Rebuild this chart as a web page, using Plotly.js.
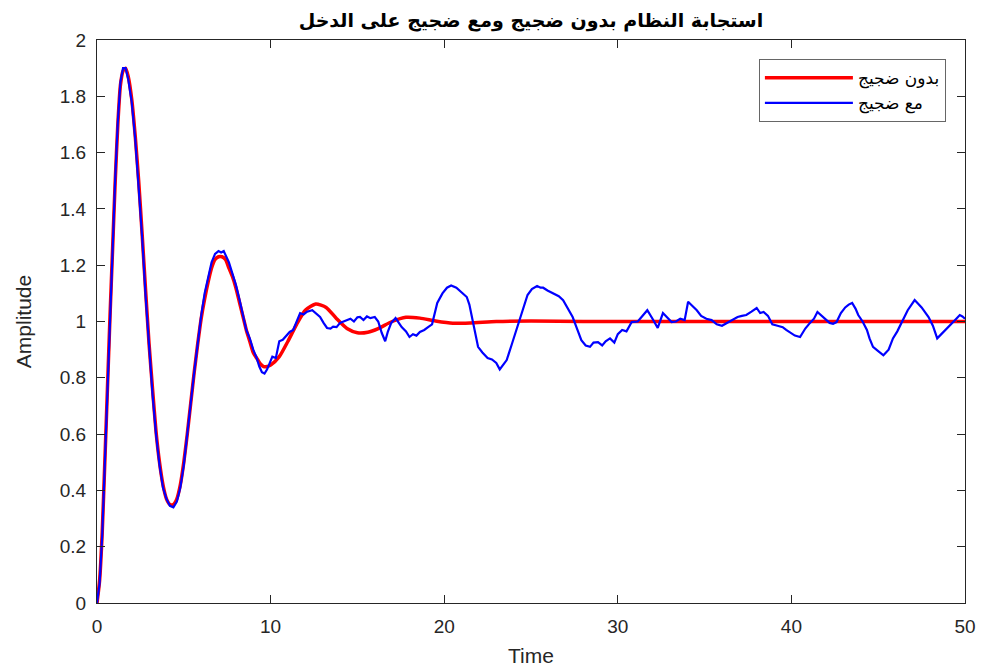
<!DOCTYPE html>
<html>
<head>
<meta charset="utf-8">
<script src="https://cdn.plot.ly/plotly-3.0.1.min.js"></script>
<style>html,body{margin:0;padding:0;background:#fff;}#chart{width:984px;height:672px;}</style>
</head>
<body>
<div id="chart"></div>
<script>
// Response without noise (red)
const tClean = [0,0.15,0.3,0.45,0.6,0.75,0.9,1.05,1.2,1.35,1.5,1.65,1.8,2.0,2.2,2.4,2.6,2.8,3.0,3.2,3.4,3.6,3.8,4.0,4.2,4.4,4.6,4.8,5.0,5.2,5.4,5.6,5.8,6.0,6.2,6.4,6.6,6.8,7.0,7.2,7.4,7.6,7.8,8.0,8.2,8.4,8.6,8.8,9.0,9.2,9.4,9.6,9.8,10.0,10.5,11.0,11.5,12.0,12.6,13.2,13.8,14.4,15.0,15.6,16.2,17.0,17.8,18.6,19.5,20.5,21.5,23,25,28,35,42,50];
const yClean = [0,0.08,0.25,0.5,0.76,1.02,1.26,1.5,1.7,1.84,1.89,1.9,1.87,1.79,1.66,1.5,1.31,1.11,0.92,0.76,0.61,0.5,0.42,0.37,0.35,0.35,0.37,0.42,0.5,0.6,0.71,0.82,0.92,1.01,1.08,1.14,1.19,1.22,1.23,1.23,1.22,1.19,1.16,1.12,1.07,1.02,0.97,0.93,0.89,0.87,0.85,0.84,0.84,0.845,0.875,0.93,0.99,1.04,1.062,1.05,1.01,0.975,0.96,0.962,0.975,1.0,1.015,1.012,1.002,0.994,0.995,1.0,1.002,1.0,1.0,1.0,1.0];

// Response with noise (blue)
const tNoisy = [0,0.15,0.3,0.45,0.6,0.75,0.9,1.05,1.2,1.35,1.5,1.65,1.8,2.0,2.2,2.4,2.6,2.8,3.0,3.2,3.4,3.6,3.8,4.0,4.2,4.4,4.6,4.8,5.0,5.2,5.4,5.6,5.8,6.0,6.2,6.4,6.6,6.8,7.0,7.15,7.3,7.45,7.6,7.8,8.0,8.2,8.4,8.6,8.8,9.0,9.2,9.35,9.5,9.65,9.8,10.0,10.1,10.3,10.5,10.7,10.9,11.1,11.3,11.5,11.7,11.9,12.1,12.4,12.6,12.85,13.05,13.25,13.45,13.6,13.8,14.0,14.2,14.4,14.6,14.8,15.0,15.15,15.35,15.55,15.75,16.0,16.2,16.4,16.6,16.75,16.95,17.2,17.4,17.55,17.8,18.0,18.2,18.4,18.6,18.85,19.07,19.3,19.6,19.9,20.16,20.4,20.7,20.9,21.1,21.3,21.45,21.6,21.8,21.95,22.2,22.5,22.75,23.0,23.2,23.4,23.6,23.9,24.2,24.5,24.8,25.05,25.35,25.55,25.7,25.95,26.3,26.6,26.85,27.1,27.4,27.65,27.9,28.15,28.4,28.6,28.86,29.1,29.3,29.55,29.8,30.0,30.25,30.5,30.8,31.15,31.45,31.7,32.0,32.3,32.6,32.85,33.1,33.35,33.6,33.85,34.05,34.3,34.55,34.8,35.1,35.4,35.7,36.0,36.3,36.6,36.9,37.15,37.4,37.7,38.0,38.2,38.4,38.65,38.9,39.2,39.5,39.7,39.9,40.2,40.5,40.8,41.07,41.3,41.5,41.85,42.2,42.4,42.6,42.85,43.1,43.3,43.5,43.7,43.85,44.1,44.35,44.5,44.7,45.0,45.3,45.6,45.85,46.1,46.4,46.7,47.1,47.5,47.9,48.15,48.4,48.7,48.95,49.15,49.3,49.5,49.7,49.85,50];
const yNoisy = [0,0.07,0.24,0.5,0.77,1.03,1.27,1.51,1.71,1.85,1.9,1.9,1.86,1.78,1.65,1.49,1.3,1.09,0.9,0.74,0.6,0.49,0.41,0.37,0.345,0.34,0.36,0.41,0.49,0.59,0.71,0.82,0.93,1.02,1.1,1.16,1.21,1.24,1.25,1.245,1.25,1.23,1.21,1.17,1.13,1.08,1.02,0.97,0.94,0.9,0.87,0.84,0.82,0.815,0.83,0.86,0.875,0.87,0.93,0.935,0.95,0.963,0.97,1.0,1.03,1.025,1.035,1.04,1.03,1.016,0.995,0.977,0.975,0.982,0.98,0.995,1.0,1.005,1.01,1.0,1.015,1.016,1.005,1.018,1.012,1.016,1.0,0.96,0.93,0.963,0.995,1.012,0.995,0.98,0.965,0.945,0.955,0.95,0.963,0.97,0.98,0.99,1.066,1.1,1.12,1.128,1.12,1.11,1.1,1.087,1.06,1.016,0.96,0.91,0.89,0.87,0.865,0.853,0.83,0.845,0.863,0.92,0.98,1.04,1.094,1.115,1.126,1.12,1.12,1.11,1.1,1.09,1.076,1.05,1.016,0.975,0.934,0.915,0.91,0.925,0.927,0.915,0.93,0.94,0.925,0.955,0.97,0.965,0.998,1.0,1.02,1.04,1.01,0.977,1.03,1.015,0.998,1.0,1.01,1.005,1.07,1.055,1.04,1.02,1.01,1.005,0.99,0.985,0.995,1.005,1.016,1.02,1.023,1.035,1.048,1.03,1.034,1.02,0.99,0.985,0.98,0.97,0.963,0.95,0.945,0.975,0.995,1.01,1.034,1.015,0.995,0.992,0.998,1.03,1.05,1.06,1.066,1.045,1.023,1.0,0.97,0.94,0.91,0.895,0.88,0.9,0.94,0.965,1.005,1.04,1.076,1.05,1.016,0.985,0.94,0.96,0.977,0.99,0.998,1.01,1.023,1.018,1.01,1.015,0.998];

const seriesNames = ['بدون ضجيج', 'مع ضجيج'];
const xTicks = [0,10,20,30,40,50];
const yTicks = [0,0.2,0.4,0.6,0.8,1,1.2,1.4,1.6,1.8,2];

const tickFont = {family: 'Liberation Sans, Arial, sans-serif', size: 19, color: '#262626'};

const traces = [
  {x: tClean, y: yClean, type: 'scatter', mode: 'lines', name: seriesNames[0],
   line: {color: '#ff0000', width: 3.5, shape: 'spline', smoothing: 0.6}},
  {x: tNoisy, y: yNoisy, type: 'scatter', mode: 'lines', name: seriesNames[1],
   line: {color: '#0000ff', width: 2.2, shape: 'linear'}}
];

const layout = {
  width: 984, height: 672,
  margin: {l: 97, r: 19, t: 40, b: 69},
  paper_bgcolor: '#ffffff', plot_bgcolor: '#ffffff',
  title: {text: 'استجابة النظام بدون ضجيج ومع ضجيج على الدخل',
          font: {family: 'DejaVu Sans, sans-serif', size: 19, color: '#000000', weight: 'bold'},
          x: 0.5, xref: 'paper', xanchor: 'center', y: 0.97, yanchor: 'middle'},
  xaxis: {range: [0, 50], tickvals: xTicks, ticktext: xTicks.map(String),
          ticks: 'inside', ticklen: 8, tickcolor: '#262626', showgrid: false, zeroline: false,
          showline: true, linecolor: '#262626', linewidth: 1, mirror: 'ticks',
          tickfont: tickFont, ticklabelstandoff: 6,
          title: {text: 'Time', font: {family: 'Liberation Sans, Arial, sans-serif', size: 21, color: '#262626'}, standoff: 12}},
  yaxis: {range: [0, 2], tickvals: yTicks, ticktext: yTicks.map(String),
          ticks: 'inside', ticklen: 8, tickcolor: '#262626', showgrid: false, zeroline: false,
          showline: true, linecolor: '#262626', linewidth: 1, mirror: 'ticks',
          tickfont: tickFont, ticklabelstandoff: 6,
          title: {text: 'Amplitude', font: {family: 'Liberation Sans, Arial, sans-serif', size: 21, color: '#262626'}, standoff: 22}},
  showlegend: true,
  legend: {x: 0.978, xanchor: 'right', y: 0.966, yanchor: 'top',
           bgcolor: '#ffffff', bordercolor: '#666666', borderwidth: 1,
           font: {family: 'DejaVu Sans, sans-serif', size: 17, color: '#000000'},
           itemwidth: 88, tracegroupgap: 0}
};

Plotly.newPlot('chart', traces, layout, {displayModeBar: false, staticPlot: true});
</script>
</body>
</html>
